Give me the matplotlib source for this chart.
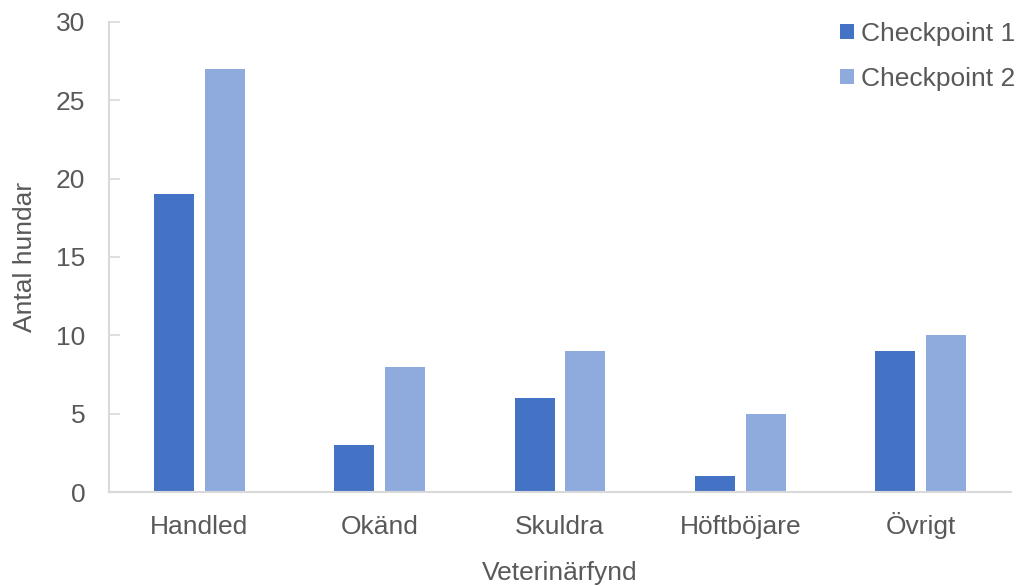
import matplotlib.pyplot as plt
import numpy as np
from matplotlib.patches import Patch

categories = ["Handled", "Okänd", "Skuldra", "Höftböjare", "Övrigt"]
checkpoint1 = [19, 3, 6, 1, 9]
checkpoint2 = [27, 8, 9, 5, 10]
series_names = ["Checkpoint 1", "Checkpoint 2"]
y_ticks = [0, 5, 10, 15, 20, 25, 30]

c1 = "#4472C4"
c2 = "#8FAADC"
text_col = "#595959"
axis_col = "#D9D9D9"
fs = 19

plt.rcParams["font.family"] = ["Liberation Sans", "DejaVu Sans"]

fig = plt.figure(figsize=(10.18, 5.86), dpi=100)
ax = fig.add_axes([109 / 1018, 1 - 492 / 586, 902 / 1018, 470 / 586])

x = np.arange(len(categories))
w = 0.222
off = 0.141
ax.bar(x - off, checkpoint1, width=w, color=c1)
ax.bar(x + off, checkpoint2, width=w, color=c2)

ax.set_xlim(-0.5, len(categories) - 0.5)
ax.set_ylim(0, 30)
ax.set_yticks(y_ticks)
ax.set_xticks(x)
ax.set_xticklabels(categories)
# category names sit on a common baseline
for lbl in ax.get_xticklabels():
    lbl.set_verticalalignment("baseline")

for s in ["top", "right"]:
    ax.spines[s].set_visible(False)
for s in ["left", "bottom"]:
    ax.spines[s].set_color(axis_col)
    ax.spines[s].set_linewidth(1.5)

ax.tick_params(axis="y", direction="in", length=8, width=1.2, color=axis_col,
               labelsize=fs, labelcolor=text_col, pad=17)
ax.tick_params(axis="x", length=0, labelsize=fs, labelcolor=text_col, pad=30)

ax.set_ylabel("Antal hundar", fontsize=fs, color=text_col, labelpad=14)
ax.set_xlabel("Veterinärfynd", fontsize=fs, color=text_col, labelpad=16)

handles = [Patch(facecolor=c1), Patch(facecolor=c2)]
leg = ax.legend(handles, series_names, loc="upper right",
                bbox_to_anchor=(1015 / 1018, 1 - 22 / 586),
                bbox_transform=fig.transFigure, frameon=False,
                fontsize=fs, handlelength=0.53, handleheight=0.53,
                handletextpad=0.27, labelspacing=0.79, borderaxespad=0,
                borderpad=0)
for t in leg.get_texts():
    t.set_color(text_col)

fig.savefig("out.png", dpi=100)
